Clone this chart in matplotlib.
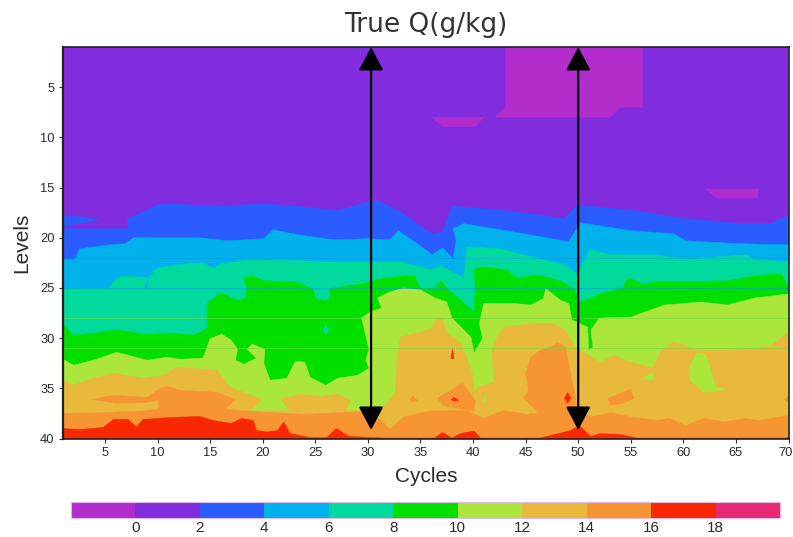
#!/usr/bin/env python3
# Contour-style plot of true Q by cycle and level, rebuilt from read-off band edges.
import matplotlib
matplotlib.use("Agg")
import matplotlib.pyplot as plt
from matplotlib.cm import ScalarMappable
from matplotlib.colors import BoundaryNorm, ListedColormap
from matplotlib.transforms import ScaledTranslation

BOUNDS = [-2, 0, 2, 4, 6, 8, 10, 12, 14, 16, 18, 20]
COLORS = ["#B22DCB", "#812DDE", "#2A5CFF", "#00B1EC", "#00DA9C", "#00DF00",
          "#ABE63C", "#E9B93B", "#F79532", "#F92800", "#E62A75"]
ARROW_CYCLES = [30.3, 50]

# lower edge of each band, (cycle, level)
EDGE_2 = [(1, 19.1), (5, 19.1), (7.2, 19.1), (7.1, 18.1), (8.3, 17.6), (9.9, 16.75), (10.9, 16.6), (13.4, 16.75),
          (16.6, 16.85), (19.8, 16.6), (23.6, 16.9), (27.1, 17.3), (30.2, 16.4), (30.9, 16.3), (33.1, 17.4),
          (34.7, 18.6), (36.1, 19.6), (37.1, 19.4), (38, 16.85), (42.6, 17.25), (47.4, 17.9), (48.7, 18.1),
          (49.9, 16.75), (55, 17.25), (60.1, 18.1), (65.5, 18.6), (68.3, 18.6), (70, 17.75)]
WEDGE_2 = [(1, 17.85), (2.5, 17.9), (4.5, 18.2), (2.5, 18.6), (1, 18.9)]
EDGE_4 = [(1, 22.2), (2.1, 22.2), (2.6, 21.1), (5.5, 20.7), (6.9, 20.6), (7.7, 20), (14, 20), (16.6, 20.3),
          (20.1, 20.1), (21, 19.2), (23.6, 19.75), (26.7, 20.2), (29.9, 20.1), (32.1, 20.2), (32.9, 19.3),
          (34.7, 20.6), (36.1, 21.7), (37.1, 21), (38.1, 22.1), (38.4, 20.25), (38.1, 19.1), (39.1, 18.6),
          (42.6, 19.2), (46.4, 19.9), (49.1, 20.4), (50.2, 18.5), (55, 19.3), (59.1, 19.6), (60.2, 20.3),
          (65.5, 20.6), (70, 20.7)]
EDGE_6 = [(1, 25.06), (5.3, 25.06), (6.1, 24.06), (6.9, 23.8), (9, 24), (8.7, 25.06), (9, 25.06), (9.2, 23.9),
          (10, 23), (12.8, 22.6), (14.4, 22.5), (15.2, 23.1), (16, 22.6), (18.5, 22.2), (23.6, 22.3), (26.7, 22.4),
          (33.1, 22.4), (36.1, 23.2), (36.9, 22.8), (39.1, 24), (39.4, 20.9), (42.6, 21.1), (46.4, 22.1),
          (48.7, 22.7), (49.9, 23.6), (51.1, 21.2), (53.1, 21.7), (57.2, 21.7), (60.2, 22.1), (66.1, 21.7),
          (66.8, 22.2), (70, 22.4)]
EDGE_8 = [(1, 28.55), (2, 29.7), (3.9, 29.5), (6.1, 29.15), (9, 29.65), (11.2, 29.5), (13.4, 29.7), (14.7, 29.05),
          (14.7, 26.55), (16, 25.5), (17.5, 26.2), (18.3, 26.05), (18.5, 25.06), (18.2, 24.06), (19, 23.8),
          (20.1, 24.3), (23, 24.4), (23.6, 24.6), (24.8, 25.1), (25, 26.05), (26, 26.3), (26.4, 26.05),
          (26.4, 25.06), (29.9, 24.5), (31.5, 24), (34.4, 23.75), (35, 25.06), (36.4, 25.06), (36.9, 24.3),
          (37.7, 25.2), (40.1, 27.4), (40.2, 25), (40.1, 23.1), (41, 22.9), (43.25, 23.2), (44.2, 24.06),
          (45.8, 23.7), (46.4, 23.8), (48, 24.2), (49.6, 25.06), (50.2, 26.4), (52.1, 25.6), (54.2, 25),
          (54.8, 24), (56.3, 24.7), (57.2, 24.4), (64.2, 24.3), (67.1, 23.75), (69.3, 23.6), (70, 24.9)]
EDGE_10 = [(1, 32.1), (2, 32.7), (3.9, 32.2), (6.1, 31.4), (9, 32.2), (10.9, 31.9), (12.1, 32.1), (14.3, 32),
           (15, 30.05), (16.1, 29.6), (17, 30.2), (17.6, 31.1), (17.4, 32.2), (18.2, 32.6), (19.4, 32), (18.5, 31.1),
           (19, 30.6), (20.2, 31.1), (20.1, 32.5), (20.7, 34.2), (22.3, 34), (23.1, 32.3), (24, 32.4), (24.5, 33.9),
           (26, 34.7), (27.1, 34), (29, 33.7), (30.1, 33), (29.8, 32.2), (30.1, 31.1), (29.4, 28), (30.2, 27.4),
           (31.3, 27), (30.9, 26), (32.1, 25.4), (33.4, 25), (35, 25.2), (36.4, 26), (37.5, 26.4), (38, 28),
           (39.8, 29.9), (40.1, 31.5), (40.9, 30), (40.6, 28.55), (41, 26.55), (43.9, 26.55), (45.5, 26.7),
           (46.7, 26.05), (46.9, 25.06), (48.3, 26.2), (49.1, 26.55), (49.4, 28.2), (50.9, 28.9), (51, 31.2),
           (51.4, 30.9), (51.2, 29.2), (52, 28), (55, 27.9), (58.2, 26.7), (61.7, 26.4), (64.2, 26.7), (66.8, 26),
           (70, 25.6)]
EDGE_12 = [(1, 34.2), (2, 34.7), (3.9, 34), (5.8, 33.5), (8.7, 34), (10.6, 33.7), (11.8, 32.9), (15.6, 33.2),
           (16.9, 34.9), (19.9, 36.1), (18.8, 37.25), (22.6, 37.25), (21.7, 36.1), (23.6, 35.6), (25.5, 35.8),
           (27.1, 35.6), (28.3, 36.2), (27.9, 37.2), (31.2, 37.2), (32.6, 35.5), (32.8, 31.9), (33.1, 29.9),
           (35, 29.4), (36.1, 29.05), (36.6, 27.9), (37.1, 28.05), (37.4, 29.4), (38.8, 30.5), (39.9, 33.4),
           (40.1, 35.2), (40.9, 34.7), (42, 34.4), (41.8, 31.2), (42.3, 29.9), (42.9, 28.9), (45.8, 28.55),
           (47.7, 28.55), (48.7, 29.2), (49.8, 31), (52.1, 32.4), (53.4, 31.7), (55, 32.4), (57.1, 33), (57.9, 31.2),
           (59.1, 30.4), (61.4, 31.2), (64.2, 31.2), (68.3, 30.8), (70, 29.4)]
EDGE_14 = [(1, 37.5), (4, 37.45), (8.7, 37.25), (9.9, 37.1), (16.6, 37.1), (19.8, 37.35), (24, 37.6), (26.7, 37.45),
           (30, 37.35), (31.3, 38.2), (32.1, 39.1), (33.4, 37.85), (36, 37.25), (39.4, 37.2), (41, 38), (42.9, 37.2),
           (45.2, 37.6), (47.4, 37.2), (50.1, 37.4), (51.2, 37.85), (53.1, 37.45), (55, 37.85), (57.5, 38.2),
           (58.7, 38), (60.2, 38.7), (62, 38), (63.9, 38.35), (65.8, 38), (67.1, 38.2), (70, 37.7)]
EDGE_16 = [(1, 39), (2.6, 39.1), (4.84, 38.9), (5.8, 38.1), (7.2, 38.1), (8, 38.85), (8.6, 38.1), (11.2, 37.9),
           (14, 37.8), (15.3, 38.2), (17, 38.5), (18, 38), (19.1, 38.2), (19.4, 39.2), (20.4, 39.35), (21.4, 39.2),
           (22, 38.35), (22.6, 39.5), (24.5, 39.9), (26.1, 39.9), (27, 39), (28.2, 39.8), (31.5, 39.95), (36.3, 39.95),
           (37.1, 39.4), (38, 39.95), (38.8, 39.5), (40.1, 39.25), (40.7, 39.95), (46.4, 39.95), (49.3, 39.2),
           (50.1, 38.7), (51.2, 39.8), (52.1, 39.5), (54, 39.6), (55.6, 39.95), (69.8, 39.95), (70, 39.8)]

# closed patches that sit on top of the bands
TOP_MAGENTA = [(43.1, 0.5), (56.1, 0.5), (56.1, 7), (54, 7), (53.1, 8), (42.1, 8), (43.1, 7)]
MID_MAGENTA = [(36.1, 8), (41, 8), (40.2, 8.93), (37.1, 8.93)]
RIGHT_MAGENTA = [(62.2, 15.1), (67.1, 15.1), (67.1, 16), (63.2, 16)]
TEAL_DOT = [(25.7, 29.2), (26, 28.7), (26.3, 29.2), (26, 29.7)]
LIME_PATCHES = [[(61.2, 31.5), (62.1, 31.5), (63.1, 34.9), (64.2, 35.1), (62, 35.4), (60.6, 34.2), (60.6, 32.9)],
                [(55.95, 34.1), (57.07, 33.4), (57.3, 34.1)],
                [(41, 36.35), (41.1, 35.6), (41.2, 36.35)]]
ORANGE_PATCHES = [[(3.73, 36.1), (5.8, 35.7), (9, 35.9), (10.1, 35.1), (11, 34.8), (12.1, 35.2), (15.6, 35.4),
                   (17.4, 36.1), (16.3, 37.2), (10.1, 37.2), (10.1, 36.2), (9, 36.4), (6.1, 36.5)],
                  [(45.5, 31.9), (46.4, 31.2), (47.4, 30.9), (48, 30.5), (48.8, 30.9), (49.9, 36.9), (50.1, 37.6),
                   (46.4, 37.6), (44.8, 36), (45.3, 35.2), (45, 33.5)],
                  [(36.6, 36), (39, 34.5), (40.2, 36.2), (40.1, 37.3), (38.5, 37), (37.2, 36.7)],
                  [(34, 36.2), (34.2, 35.7), (34.7, 36.2), (34.2, 36.4)],
                  [(52.8, 36), (55, 35.1), (55.3, 36), (54.2, 36.5), (53.1, 36.7)],
                  [(69.6, 36.1), (70, 35.8), (70, 36.4)]]
RED_PATCHES = [[(37.9, 32.04), (38.05, 31.04), (38.2, 32.04)],
               [(37.9, 36.1), (38.2, 35.9), (38.65, 36.2), (38.2, 36.3)],
               [(48.7, 36), (49, 35.4), (49.3, 36), (49, 36.5)]]
FAINT_LINES = [(22, "#0098D8"), (25, "#0098D8"), (28, "#6FDC3C"), (31, "#6FDC3C")]

W, H = 793.0, 537.0
TEXT = "#2a2a2a"
fig = plt.figure(figsize=(W / 100, H / 100), dpi=100)
ax = fig.add_axes([63 / W, 1 - 438.5 / H, (788.5 - 63) / W, (438.5 - 47) / H])
ax.set_xlim(1, 70)
ax.set_ylim(40, 1)


def closed(points, color, z):
    xs = [p[0] for p in points]
    ys = [p[1] for p in points]
    ax.fill(xs, ys, facecolor=color, edgecolor=color, linewidth=0.3, zorder=z)


ax.set_facecolor(COLORS[1])
edges = [EDGE_2, EDGE_4, EDGE_6, EDGE_8, EDGE_10, EDGE_12, EDGE_14, EDGE_16]
for i, edge in enumerate(edges):
    # each band fills everything below its upper edge; the next band paints over it
    closed(edge + [(70.5, 40.5), (0.5, 40.5)], COLORS[i + 2], 2 + i)
closed(WEDGE_2, COLORS[2], 3)
closed(TOP_MAGENTA, COLORS[0], 12)
closed(MID_MAGENTA, COLORS[0], 12)
closed(RIGHT_MAGENTA, COLORS[0], 12)
closed(TEAL_DOT, COLORS[4], 12)
for p in LIME_PATCHES:
    closed(p, COLORS[6], 13)
for p in ORANGE_PATCHES:
    closed(p, COLORS[8], 13)
for p in RED_PATCHES:
    closed(p, COLORS[9], 14)
for lev, c in FAINT_LINES:
    ax.axhline(lev, color=c, linewidth=0.7, alpha=0.6, zorder=15)

for cyc in ARROW_CYCLES:
    ax.annotate("", xy=(cyc, 1), xytext=(cyc, 39.15),
                arrowprops=dict(arrowstyle="<|-|>,head_length=14.4,head_width=7.6", mutation_scale=1,
                                color="black", lw=1.6, shrinkA=0, shrinkB=0), zorder=20)

ax.set_xticks(range(5, 71, 5))
ax.set_yticks(range(5, 41, 5))
ax.tick_params(length=3, width=0.8, color="#333333", labelsize=9.3, pad=3, labelcolor=TEXT)
for lab in ax.get_xticklabels() + ax.get_yticklabels():
    lab.set_fontfamily("Liberation Sans")
# last cycle label sits right at the image edge
last = ax.get_xticklabels()[-1]
last.set_transform(last.get_transform() + ScaledTranslation(-3 / 100, 0, fig.dpi_scale_trans))
for s in ax.spines.values():
    s.set_linewidth(1.2)
    s.set_color("#222222")
    s.set_zorder(25)
ax.spines["left"].set_linewidth(1.6)

fig.text(426 / W, 1 - 25 / H, "True Q(g/kg)", family="DejaVu Sans", fontsize=19, ha="center", va="center", color="#333333")
fig.text(426 / W, 1 - 477 / H, "Cycles", family="Liberation Sans", fontsize=15, ha="center", va="center", color=TEXT)
fig.text(22 / W, 1 - 243 / H, "Levels", family="Liberation Sans", fontsize=15, rotation=90, ha="center", va="center",
         color=TEXT)

cax = fig.add_axes([71 / W, 1 - 518 / H, (780 - 71) / W, 16 / H])
cb = fig.colorbar(ScalarMappable(norm=BoundaryNorm(BOUNDS, len(COLORS)), cmap=ListedColormap(COLORS)),
                  cax=cax, orientation="horizontal", spacing="proportional", ticks=BOUNDS[1:-1])
cb.minorticks_off()
cb.outline.set_edgecolor("#E0B8EC")
cb.outline.set_linewidth(0.8)
cb.ax.tick_params(length=0, labelsize=11, pad=2, labelcolor=TEXT)
for lab in cb.ax.get_xticklabels():
    lab.set_fontfamily("Liberation Sans")

fig.savefig("out.png", dpi=100)
